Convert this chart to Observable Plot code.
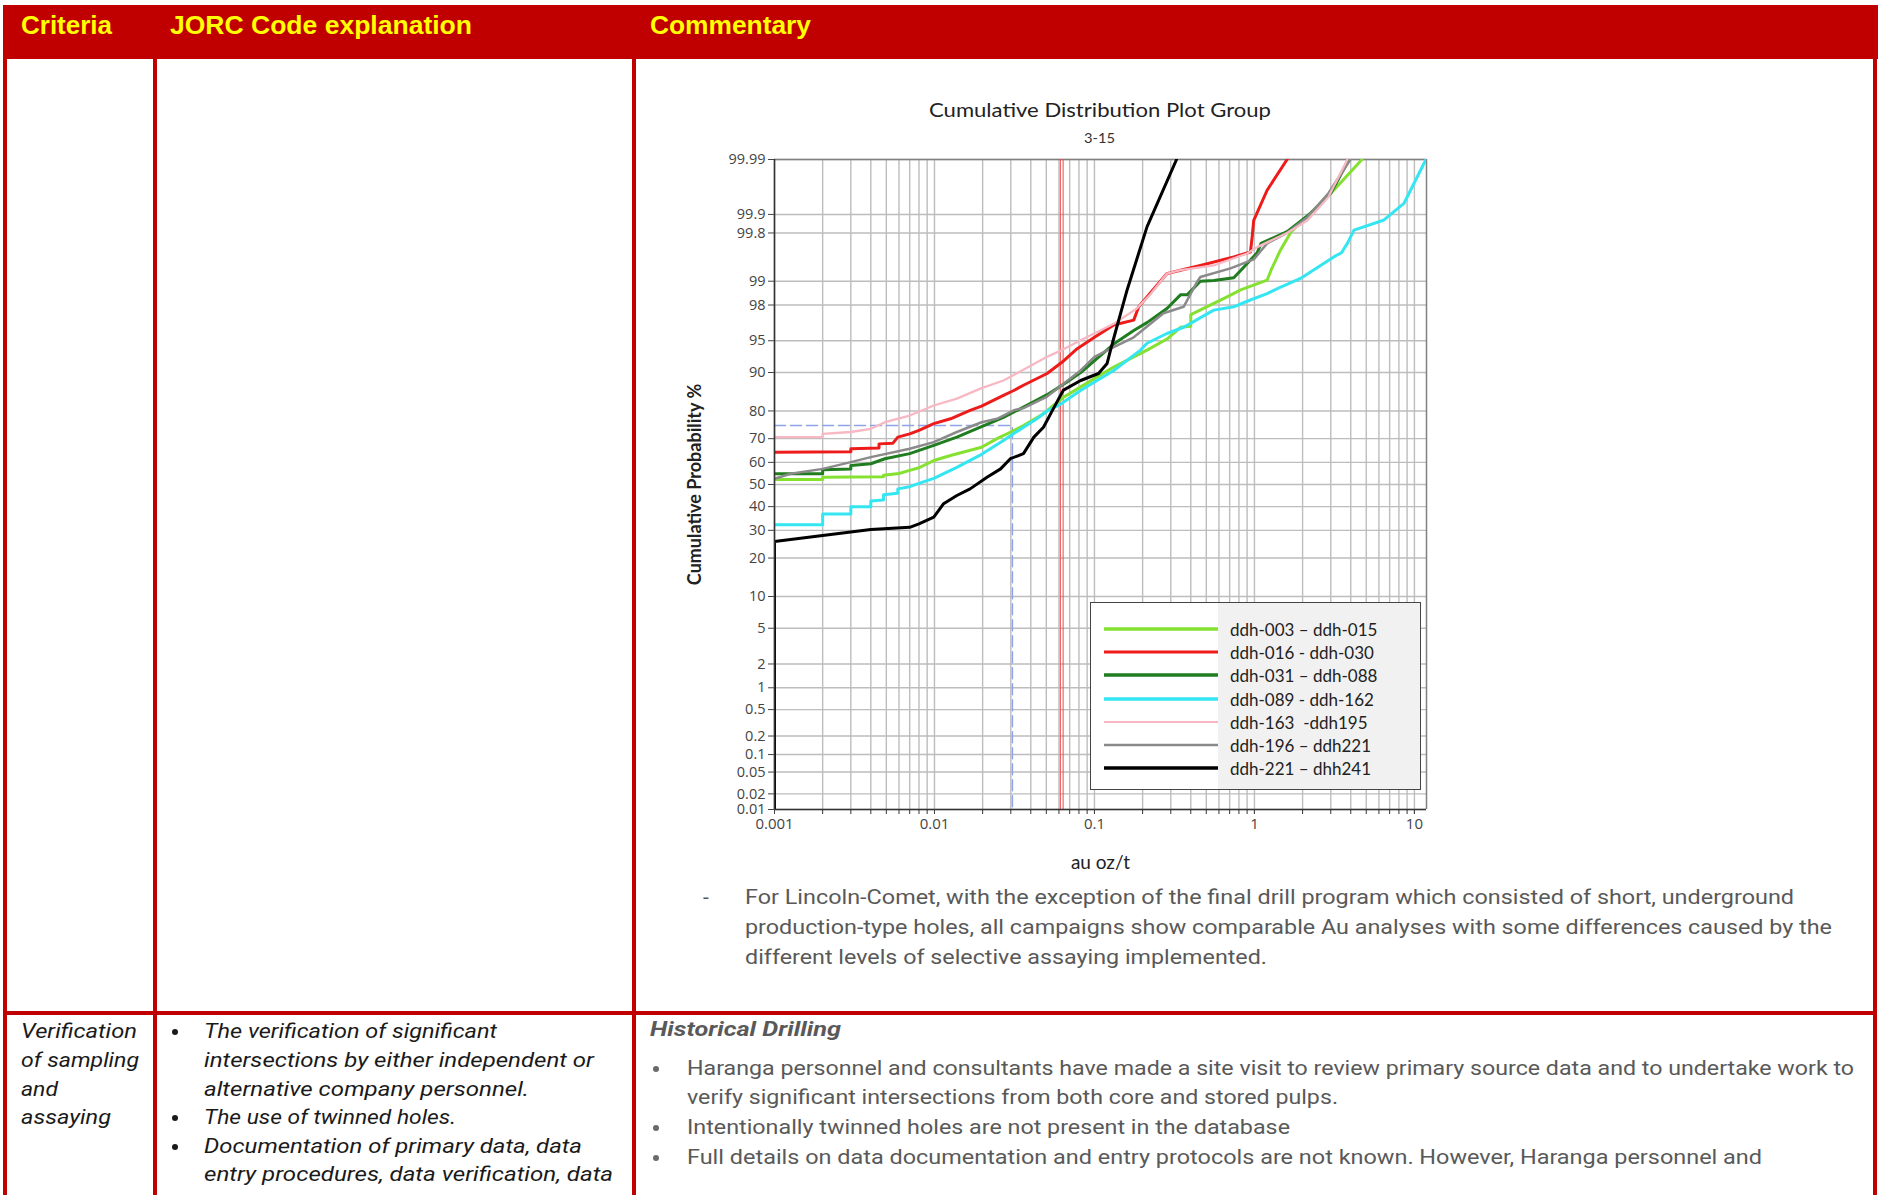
<!DOCTYPE html>
<html><head><meta charset="utf-8">
<script src="https://cdn.jsdelivr.net/npm/d3@7"></script>
<script src="https://cdn.jsdelivr.net/npm/@observablehq/plot@0.6"></script>
<style>
html,body{margin:0;padding:0;background:#fff;}
body{width:1878px;height:1195px;position:relative;overflow:hidden;}
.box{position:absolute;}
.dot{position:absolute;border-radius:50%;}
.t{position:absolute;white-space:nowrap;line-height:1;transform-origin:0 50%;}
#chart{position:absolute;left:680px;top:140px;}
#legend{position:absolute;left:1090px;top:602px;width:329px;height:186px;border:1px solid #444;background:#fff;}
</style></head><body>
<script>
// ---------- chart data ----------
const seriesNames = ["ddh-003 \u2013 ddh-015","ddh-016 - ddh-030","ddh-031 \u2013 ddh-088","ddh-089 - ddh-162","ddh-163  -ddh195","ddh-196 \u2013 ddh221","ddh-221 \u2013 dhh241"];
const seriesColors = ["#84e130","#ee1b1b","#1f7d1f","#33e6f2","#f7b8c4","#8a8a8a","#000000"];
const seriesWidths = [3,3,3,3,2.3,2.5,3];
const legendWidths = [3.5,3,3.5,3.5,2,2.5,3.5];

// [au oz/t, cumulative probability %]
const ddh003_015 = [[0.001,52.3],[0.002,52.3],[0.002,53.3],[0.0048,53.5],[0.0048,54.2],[0.006,55],[0.007,56.4],[0.008,57.6],[0.0099,60.8],[0.0126,63],[0.0197,66.5],[0.0246,70],[0.03,72.6],[0.036,75],[0.048,79.1],[0.064,84.1],[0.082,86.8],[0.132,91.05],[0.213,93.8],[0.284,95.2],[0.345,96.4],[0.4,96.5],[0.4,97.4],[0.67,98.4],[0.82,98.7],[1.2,99.03],[1.27,99.29],[1.45,99.63],[1.7,99.81],[2.34,99.915],[3.13,99.962],[4.7,99.99]];
const ddh016_030 = [[0.001,64.4],[0.003,64.6],[0.003,65.9],[0.0045,66.2],[0.0045,67.9],[0.0055,68.2],[0.0059,70.6],[0.007,71.9],[0.008,73.2],[0.0099,75.7],[0.0126,77.4],[0.0167,80.2],[0.0197,81.5],[0.027,84.6],[0.0313,85.9],[0.036,87.2],[0.0506,89.8],[0.0626,91.9],[0.078,94],[0.1,95.4],[0.132,96.6],[0.176,97.0],[0.189,97.9],[0.225,98.6],[0.284,99.21],[0.345,99.29],[0.459,99.39],[0.743,99.54],[0.944,99.61],[0.968,99.77],[0.99,99.875],[1.2,99.962],[1.6,99.99]];
const ddh031_088 = [[0.001,54.9],[0.002,54.9],[0.002,56.7],[0.003,57],[0.003,58.6],[0.004,59.4],[0.0049,61.6],[0.007,63.8],[0.0099,67.3],[0.0138,70.6],[0.0197,74.6],[0.027,77.9],[0.036,81.2],[0.0506,84.8],[0.067,87.9],[0.082,90.0],[0.132,94.6],[0.176,96.1],[0.213,96.8],[0.284,97.8],[0.345,98.5],[0.38,98.5],[0.459,99.0],[0.557,99.02],[0.743,99.1],[0.86,99.36],[1.04,99.6],[1.1,99.71],[1.6,99.81],[2.2,99.9],[3.0,99.957],[3.9,99.99]];
const ddh089_162 = [[0.001,32.3],[0.002,32.3],[0.002,36.8],[0.003,36.8],[0.003,40],[0.004,40],[0.004,42.5],[0.0048,43],[0.0048,45.3],[0.0059,46],[0.0059,48],[0.007,49],[0.008,50.5],[0.0099,52.8],[0.0138,57.8],[0.0197,63.5],[0.027,69.3],[0.0313,72],[0.036,74.4],[0.0437,77.4],[0.0506,80],[0.061,82],[0.0818,85.9],[0.132,90.4],[0.194,93.8],[0.213,94.7],[0.284,95.8],[0.361,96.4],[0.557,97.7],[0.743,97.9],[0.9,98.2],[1.2,98.55],[1.45,98.8],[1.94,99.08],[3.13,99.54],[3.5,99.6],[3.81,99.71],[4.19,99.82],[6.4,99.875],[8.6,99.935],[11.8,99.99]];
const ddh163_195 = [[0.001,70.6],[0.002,70.6],[0.002,71.9],[0.003,72.6],[0.004,73.8],[0.0049,76.2],[0.007,78.5],[0.0099,81.7],[0.0138,83.7],[0.0197,86.5],[0.027,88.3],[0.0313,89.5],[0.0506,92.8],[0.0626,93.8],[0.082,95.05],[0.132,96.7],[0.184,97.8],[0.225,98.55],[0.284,99.21],[0.345,99.29],[0.557,99.39],[0.9,99.59],[1.04,99.67],[1.6,99.8],[2.15,99.875],[2.9,99.95],[3.81,99.99]];
const ddh196_221 = [[0.001,52.6],[0.00126,54.9],[0.002,57.1],[0.003,60.1],[0.004,62.3],[0.007,65.9],[0.0099,68.6],[0.0138,72.6],[0.0197,76.2],[0.0246,77.4],[0.0313,80.2],[0.036,80.9],[0.0506,84.3],[0.082,90.4],[0.1,92.8],[0.132,94.2],[0.176,95.4],[0.27,97.5],[0.361,97.9],[0.437,98.97],[0.459,99.12],[0.708,99.33],[0.99,99.5],[1.2,99.71],[1.6,99.8],[2.15,99.89],[2.9,99.957],[3.98,99.99]];
const ddh221_241 = [[0.001,0.01],[0.001,25.7],[0.002,28],[0.004,30.3],[0.007,31.2],[0.008,32.6],[0.0099,35.4],[0.0114,41.3],[0.0138,45],[0.0167,48],[0.0213,53.3],[0.0259,57.1],[0.0298,61.6],[0.036,63.8],[0.0418,70.6],[0.048,74.4],[0.056,81.2],[0.064,86],[0.082,88.3],[0.106,89.8],[0.12,91.7],[0.126,93.8],[0.135,95.9],[0.16,98.7],[0.213,99.84],[0.326,99.99]];
const seriesData = [ddh003_015, ddh016_030, ddh031_088, ddh089_162, ddh163_195, ddh196_221, ddh221_241];
const drawOrder = [0,3,2,5,1,4,6];

const cutoffLine = [[0.001,75],[0.0307,75],[0.0307,0.01]];
const redMarkers = [0.0612, 0.0637];

const yTicks = [0.01,0.02,0.05,0.1,0.2,0.5,1,2,5,10,20,30,40,50,60,70,80,90,95,98,99,99.8,99.9,99.99];
const xMajor = [0.001,0.01,0.1,1,10];
const xMinor = [0.001,0.002,0.003,0.004,0.005,0.006,0.007,0.008,0.009,0.01,0.02,0.03,0.04,0.05,0.06,0.07,0.08,0.09,0.1,0.2,0.3,0.4,0.5,0.6,0.7,0.8,0.9,1,2,3,4,5,6,7,8,9,10];
const xDomain = [0.001, 11.9];
const yDomainPct = [0.01, 99.99];

// inverse normal CDF (probability-scale transform)
function probit(p){
  const a=[-3.969683028665376e+01,2.209460984245205e+02,-2.759285104469687e+02,1.383577518672690e+02,-3.066479806614716e+01,2.506628277459239e+00];
  const b=[-5.447609879822406e+01,1.615858368580409e+02,-1.556989798598866e+02,6.680131188771972e+01,-1.328068155288572e+01];
  const c=[-7.784894002430293e-03,-3.223964580411365e-01,-2.400758277161838e+00,-2.549732539343734e+00,4.374664141464968e+00,2.938163982698783e+00];
  const d=[7.784695709041462e-03,3.224671290700398e-01,2.445134137142996e+00,3.754408661907416e+00];
  const pl=0.02425, ph=1-pl; let q,r;
  if(p<pl){q=Math.sqrt(-2*Math.log(p));return (((((c[0]*q+c[1])*q+c[2])*q+c[3])*q+c[4])*q+c[5])/((((d[0]*q+d[1])*q+d[2])*q+d[3])*q+1);}
  if(p<=ph){q=p-0.5;r=q*q;return (((((a[0]*r+a[1])*r+a[2])*r+a[3])*r+a[4])*r+a[5])*q/(((((b[0]*r+b[1])*r+b[2])*r+b[3])*r+b[4])*r+1);}
  q=Math.sqrt(-2*Math.log(1-p));return -(((((c[0]*q+c[1])*q+c[2])*q+c[3])*q+c[4])*q+c[5])/((((d[0]*q+d[1])*q+d[2])*q+d[3])*q+1);
}

// ---------- page table ----------
const RED = "#C00000";
function box(l,t,w,h,bg){const d=document.createElement("div");d.className="box";Object.assign(d.style,{left:l+"px",top:t+"px",width:w+"px",height:h+"px",background:bg});document.body.appendChild(d);return d;}
function dot(cx,cy,r,bg){const d=document.createElement("div");d.className="dot";Object.assign(d.style,{left:(cx-r)+"px",top:(cy-r)+"px",width:(2*r)+"px",height:(2*r)+"px",background:bg});document.body.appendChild(d);}
function put(txt,x,cy,font,color,w,parent){
  const s=document.createElement("span");s.className="t";s.textContent=txt;
  Object.assign(s.style,{left:x+"px",top:cy+"px",font:font,color:color});
  (parent||document.body).appendChild(s);
  let tr="translateY(-50%)";
  if(w){const nw=s.getBoundingClientRect().width; if(nw>0) tr+=` scaleX(${w/nw})`;}
  s.style.transform=tr; return s;
}

box(3,5,1875,54,RED);
box(3,59,4,1136,RED);
box(153,59,4,1136,RED);
box(632,59,4,1136,RED);
box(1873,59,4,1136,RED);
box(3,1011,1874,4,RED);

const HF="bold 25px 'Liberation Sans', Arial, sans-serif";
put("Criteria",21,24.5,HF,"#FFFF00",91);
put("JORC Code explanation",170,24.5,HF,"#FFFF00",302);
put("Commentary",650,24.5,HF,"#FFFF00",161);

const BF="21px Roboto, sans-serif";
const BI="italic 21px Roboto, sans-serif";
const BBI="italic bold 21px Roboto, sans-serif";
const GRAY="#595959", DARK="#1a1a1a";
put("-",703,897,BF,GRAY);
put("For Lincoln-Comet, with the exception of the final drill program which consisted of short, underground",745,897,BF,GRAY,1049);
put("production-type holes, all campaigns show comparable Au analyses with some differences caused by the",745,927,BF,GRAY,1087);
put("different levels of selective assaying implemented.",745,957,BF,GRAY,522);

put("Verification",21,1031,BI,DARK,116);
put("of sampling",21,1060,BI,DARK,118);
put("and",21,1089,BI,DARK,37);
put("assaying",21,1117,BI,DARK,90);
[1032,1118,1147].forEach(y=>dot(175,y,3.2,DARK));
put("The verification of significant",204,1031,BI,DARK,293);
put("intersections by either independent or",204,1060,BI,DARK,390);
put("alternative company personnel.",204,1089,BI,DARK,325);
put("The use of twinned holes.",204,1117,BI,DARK,252);
put("Documentation of primary data, data",204,1146,BI,DARK,378);
put("entry procedures, data verification, data",204,1174,BI,DARK,409);

put("Historical Drilling",650,1029,BBI,GRAY,191);
[1069,1128,1158].forEach(y=>dot(656,y,3.2,"#6a6a6a"));
put("Haranga personnel and consultants have made a site visit to review primary source data and to undertake work to",687,1068,BF,GRAY,1167);
put("verify significant intersections from both core and stored pulps.",687,1097,BF,GRAY,651);
put("Intentionally twinned holes are not present in the database",687,1127,BF,GRAY,603);
put("Full details on data documentation and entry protocols are not known. However, Haranga personnel and",687,1157,BF,GRAY,1075);

// chart title
put("Cumulative Distribution Plot Group",928.5,109,"19px Lato, sans-serif","#222",342);
put("3-15",1084,137,"14px Lato, sans-serif","#333",31);

// ---------- chart ----------
const X = d=>d[0], Y = d=>d[1];
const lineMarks = drawOrder.map(i=>Plot.line(seriesData[i],{x:X,y:Y,stroke:seriesColors[i],strokeWidth:seriesWidths[i],clip:true}));

const chart = Plot.plot({
  width:760, height:740,
  marginLeft:94, marginRight:14, marginTop:19, marginBottom:71,
  style:{fontFamily:"'Open Sans', sans-serif", fontSize:"15px", background:"transparent"},
  x:{type:"log", domain:xDomain, axis:null},
  y:{type:"linear", domain:yDomainPct.map(p=>probit(p/100)), transform:p=>probit(p/100), axis:null},
  marks:[
    Plot.gridX(xMinor,{stroke:"#bdbdbd",strokeOpacity:1,strokeWidth:1.4}),
    Plot.gridY(yTicks,{stroke:"#bdbdbd",strokeOpacity:1,strokeWidth:1.4}),
    Plot.ruleY([yDomainPct[1]],{stroke:"#808080",strokeWidth:1.5}),
    Plot.ruleX([xDomain[1]],{stroke:"#808080",strokeWidth:1.5}),
    Plot.line(cutoffLine,{x:X,y:Y,stroke:"#8ea4e6",strokeWidth:1.5,strokeDasharray:"11,5"}),
    Plot.ruleX(redMarkers,{y1:yDomainPct[0],y2:yDomainPct[1],stroke:"#f04848",strokeWidth:1}),
    ...lineMarks,
    Plot.ruleX([xDomain[0]],{stroke:"#333",strokeWidth:1.6}),
    Plot.ruleY([yDomainPct[0]],{stroke:"#333",strokeWidth:1.6}),
    Plot.axisX(xMinor,{tickSize:5,tickFormat:()=>"",color:"#333",label:null}),
    Plot.axisX(xMajor,{tickSize:5,tickPadding:4,tickFormat:d=>d3.format("~g")(d),color:"#444",fontSize:15,label:null}),
    Plot.axisY(yTicks,{tickSize:6,tickPadding:3,tickFormat:d=>String(d),color:"#444",fontSize:14.5,label:null}),
    Plot.text(["Cumulative Probability %"],{text:d=>d,frameAnchor:"left",dx:-79,rotate:-90,textAnchor:"middle",lineAnchor:"middle",fontSize:18,fontWeight:"bold",fontFamily:"Lato, sans-serif",fill:"#222"}),
    Plot.text(["au oz/t"],{text:d=>d,frameAnchor:"bottom",dy:53,textAnchor:"middle",lineAnchor:"middle",fontSize:19,fontFamily:"Lato, sans-serif",fill:"#222"})
  ]
});
chart.id="chart";
document.body.appendChild(chart);

// ---------- legend ----------
const lg=document.createElement("div");lg.id="legend";document.body.appendChild(lg);
const tb=document.createElement("div");Object.assign(tb.style,{position:"absolute",left:"127px",top:"0px",width:"202px",height:"186px",background:"#f1f1f1"});lg.appendChild(tb);
const ns="http://www.w3.org/2000/svg";
const ls=document.createElementNS(ns,"svg");ls.setAttribute("width","329");ls.setAttribute("height","186");ls.style.position="absolute";ls.style.left="0";ls.style.top="0";lg.appendChild(ls);
const rowY=[26,49,72,96,119,142,165];
seriesNames.forEach((n,i)=>{
  const l=document.createElementNS(ns,"line");
  l.setAttribute("x1",13);l.setAttribute("x2",127);l.setAttribute("y1",rowY[i]);l.setAttribute("y2",rowY[i]);
  l.setAttribute("stroke",seriesColors[i]);l.setAttribute("stroke-width",legendWidths[i]);ls.appendChild(l);
  const s=put(n,139,rowY[i],"17px Lato, sans-serif","#222",null,lg);
  s.style.whiteSpace="pre";
});
</script>
</body></html>
